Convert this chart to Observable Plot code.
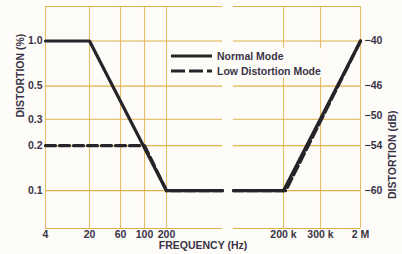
<!DOCTYPE html>
<html><head><meta charset="utf-8">
<script src="https://cdn.jsdelivr.net/npm/d3@7"></script>
<script src="https://cdn.jsdelivr.net/npm/@observablehq/plot@0.6"></script>
<style>
html,body{margin:0;padding:0;background:#fdfcf9;}
#chart{position:relative;width:402px;height:254px;font-family:"Liberation Sans",Arial,sans-serif;}
#chart svg{display:block;}
#legend{position:absolute;left:169px;top:48px;width:152px;height:29px;background:#fdfcf9;}
.row{position:absolute;left:0;height:14px;display:flex;align-items:center;font:bold 10.5px "Liberation Sans",Arial,sans-serif;color:#3a3346;white-space:nowrap;}
.row svg{margin-left:2px;margin-right:5px;}
</style></head><body>
<div id="chart"></div>
<script>
// ---- data ----
const xTickValues = [4, 20, 60, 100, 200, 200000, 300000, 2000000];
const xTickLabels = ["4", "20", "60", "100", "200", "200 k", "300 k", "2 M"];
const yTickValues = [1.0, 0.5, 0.3, 0.2, 0.1];
const yTickLabels = ["1.0", "0.5", "0.3", "0.2", "0.1"];
const dbTickValues = [-40, -46, -50, -54, -60];
const dbTickLabels = ["\u221240", "\u221246", "\u221250", "\u221254", "\u221260"];
const breakStart = 2000, breakEnd = 20000; // axis break (schematic)
const normalFreq = [4, 20, 200, 2000, null, 20000, 200000, 2000000];
const normalDist = [1.0, 1.0, 0.1, 0.1, null, 0.1, 0.1, 1.0];
const lowFreq = [4, 100, 200, 2000, null, 20000, 205000, 2000000];
const lowDist = [0.2, 0.2, 0.1, 0.1, null, 0.1, 0.1, 1.0];
const seriesNames = ["Normal Mode", "Low Distortion Mode"];

// ---- build tables ----
const normal = normalFreq.map((f, i) => ({f, d: normalDist[i]}));
const low = lowFreq.map((f, i) => ({f, d: lowDist[i]}));
const yDomain = [0.0559, 1.70];
const hLevels = [yDomain[1], ...yTickValues, yDomain[0]];
const hSegs = hLevels.flatMap(y => [
  {y, x1: xTickValues[0], x2: breakStart},
  {y, x1: breakEnd, x2: xTickValues[xTickValues.length - 1]}
]);
const dbTicks = dbTickValues.map((db, i) => ({y: 100 * Math.pow(10, db / 20), label: dbTickLabels[i]}));

const ink = "#3a3346";
const lineInk = "#262428";
const gridH = "#e2b14c";
const gridV = "#e3bf66";

const chart = Plot.plot({
  width: 402,
  height: 254,
  marginLeft: 45,
  marginRight: 42,
  marginTop: 6,
  marginBottom: 26,
  style: {background: "#fdfcf9", fontFamily: "'Liberation Sans', Arial, sans-serif"},
  x: {
    type: "log",
    domain: [4, 20, 60, 100, 200, breakStart, breakEnd, 200000, 300000, 2000000],
    range: [45, 89, 120, 144, 166, 222, 233, 283, 320, 360],
    axis: null
  },
  y: {type: "log", domain: yDomain, axis: null},
  marks: [
    Plot.ruleX(xTickValues, {x: d => d, stroke: gridV, strokeWidth: 1.1}),
    Plot.ruleY(hSegs, {y: "y", x1: "x1", x2: "x2", stroke: gridH, strokeWidth: 1.2}),
    Plot.line(normal, {x: "f", y: "d", stroke: lineInk, strokeWidth: 3.2}),
    Plot.line(low, {x: "f", y: "d", stroke: lineInk, strokeWidth: 3.2, strokeDasharray: "10,4"}),
    Plot.text(xTickValues, {x: d => d, text: (d, i) => xTickLabels[i], frameAnchor: "bottom", dy: 9, fill: ink, fontSize: 10.5, fontWeight: "bold"}),
    Plot.text(yTickValues, {y: d => d, text: (d, i) => yTickLabels[i], frameAnchor: "left", textAnchor: "end", dx: -3, fill: ink, fontSize: 10.5, fontWeight: "bold"}),
    Plot.text(dbTicks, {y: "y", text: "label", frameAnchor: "right", textAnchor: "start", dx: 4, fill: ink, fontSize: 10.5, fontWeight: "bold"}),
    Plot.text(["DISTORTION (%)"], {frameAnchor: "left", dx: -25, rotate: -90, fill: ink, fontSize: 10.5, fontWeight: "bold"}),
    Plot.text(["DISTORTION (dB)"], {frameAnchor: "right", dx: 32, dy: -7, rotate: -90, fill: ink, fontSize: 10.5, fontWeight: "bold"}),
    Plot.text(["FREQUENCY (Hz)"], {frameAnchor: "bottom", dy: 20, fill: ink, fontSize: 10.5, fontWeight: "bold"})
  ]
});
const container = document.getElementById("chart");
container.appendChild(chart);

// legend (inside the plot area)
const legend = document.createElement("div");
legend.id = "legend";
const dashes = [null, "14,4"];
seriesNames.forEach((name, i) => {
  const row = document.createElement("div");
  row.className = "row";
  row.style.top = (1 + i * 15) + "px";
  row.innerHTML = `<svg width="41" height="6"><line x1="0" x2="41" y1="3" y2="3" stroke="${lineInk}" stroke-width="3.2"${dashes[i] ? ` stroke-dasharray="${dashes[i]}"` : ""}/></svg><span>${name}</span>`;
  legend.appendChild(row);
});
container.appendChild(legend);
</script>
</body></html>
